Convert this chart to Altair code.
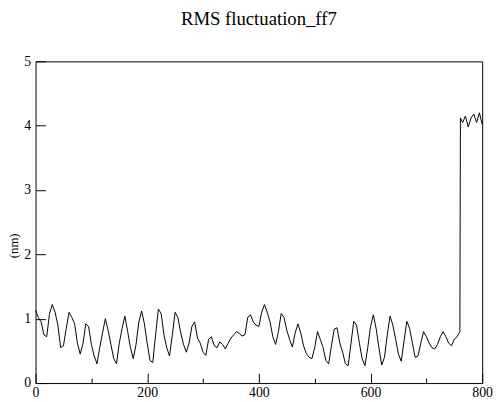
import altair as alt
import pandas as pd

# residue index (x) and RMS fluctuation in nm (y)
xs = [0, 5, 10, 15, 20, 25, 30, 35, 40, 45, 50, 55, 60, 65, 70, 75, 80, 85, 90, 95,
      100, 105, 110, 115, 120, 125, 130, 135, 140, 145, 150, 155, 160, 165, 170, 175,
      180, 185, 190, 195, 200, 205, 210, 215, 220, 225, 230, 235, 240, 245, 250, 255,
      260, 265, 270, 275, 280, 285, 290, 295, 300, 305, 310, 315, 320, 325, 330, 335,
      340, 345, 350, 355, 360, 365, 370, 375, 380, 385, 390, 395, 400, 405, 410, 415,
      420, 425, 430, 435, 440, 445, 450, 455, 460, 465, 470, 475, 480, 485, 490, 495,
      500, 505, 510, 515, 520, 525, 530, 535, 540, 545, 550, 555, 560, 565, 570, 575,
      580, 585, 590, 595, 600, 605, 610, 615, 620, 625, 630, 635, 640, 645, 650, 655,
      660, 665, 670, 675, 680, 685, 690, 695, 700, 705, 710, 715, 720, 725, 730, 735,
      740, 745, 750, 755, 760, 761, 765, 770, 775, 780, 785, 790, 795, 800]
ys = [1.13, 1.02, 0.95, 0.75, 0.72, 1.08, 1.22, 1.10, 0.90, 0.55, 0.58, 0.85, 1.10, 1.02, 0.92, 0.62, 0.45, 0.62, 0.92, 0.88,
      0.60, 0.42, 0.30, 0.55, 0.78, 1.00, 0.82, 0.60, 0.38, 0.30, 0.62, 0.85, 1.04, 0.80, 0.55, 0.38,
      0.60, 0.95, 1.12, 0.92, 0.62, 0.35, 0.32, 0.75, 1.15, 1.08, 0.75, 0.55, 0.42, 0.75, 1.10, 1.02,
      0.78, 0.60, 0.48, 0.62, 0.88, 0.95, 0.70, 0.62, 0.48, 0.43, 0.68, 0.72, 0.58, 0.55, 0.64, 0.60,
      0.53, 0.62, 0.70, 0.75, 0.80, 0.77, 0.73, 0.75, 1.02, 1.06, 0.95, 0.90, 0.88, 1.10, 1.22, 1.10,
      0.95, 0.72, 0.60, 0.80, 1.08, 1.02, 0.82, 0.68, 0.56, 0.78, 0.92, 0.78, 0.58, 0.46, 0.40, 0.38,
      0.55, 0.80, 0.68, 0.55, 0.35, 0.30, 0.58, 0.84, 0.86, 0.62, 0.48, 0.30, 0.27, 0.62, 0.96, 0.90,
      0.62, 0.38, 0.27, 0.55, 0.88, 1.06, 0.85, 0.55, 0.28, 0.40, 0.75, 1.04, 0.90, 0.68, 0.45, 0.34,
      0.65, 0.96, 0.85, 0.62, 0.40, 0.42, 0.62, 0.80, 0.72, 0.62, 0.55, 0.53, 0.60, 0.72, 0.80, 0.72,
      0.62, 0.58, 0.68, 0.72, 0.80, 4.12, 4.05, 4.15, 3.98, 4.12, 4.18, 4.05, 4.20, 4.02]

x_ticks = [0, 100, 200, 300, 400, 500, 600, 700, 800]   # labelled every 200
y_ticks = [0, 0.5, 1, 1.5, 2, 2.5, 3, 3.5, 4, 4.5, 5]   # labelled every 1

W, H = 454, 327
FONT = "Liberation Serif"

df = pd.DataFrame({"x": xs, "y": ys})

# inward ticks: axis moved 10px into the plot, ticks drawn back out to the frame;
# minor ticks dashed so only their outer 5px (touching the frame) are visible
xaxis = alt.Axis(
    values=x_ticks, offset=-10, tickSize=10, tickColor="black", tickWidth=1,
    tickDash={"condition": {"test": "datum.value % 200 === 0", "value": [10, 0]},
              "value": [0, 5, 5]},
    labelExpr="datum.value % 200 === 0 ? datum.label : ''", format="d",
    domain=False, grid=False, labelPadding=3, labelFlush=False, labelOverlap=False,
    labelFont=FONT, labelFontSize=14, labelColor="black", title=None,
)
yaxis = alt.Axis(
    values=y_ticks, offset=-10, tickSize=10, tickColor="black", tickWidth=1,
    tickDash={"condition": {"test": "datum.value % 1 === 0", "value": [10, 0]},
              "value": [0, 5, 5]},
    labelExpr="datum.value % 1 === 0 ? datum.label : ''", format="d",
    domain=False, grid=False, labelPadding=5, labelFlush=False, labelOverlap=False,
    labelFont=FONT, labelFontSize=14, labelColor="black",
    title="(nm)", titleFont=FONT, titleFontSize=13, titleFontWeight="normal",
    titleColor="black", titleX=-32, titleY=187, titleBaseline="middle",
)

chart = alt.Chart(df).mark_line(color="black", strokeWidth=1).encode(
    x=alt.X("x:Q", scale=alt.Scale(domain=[0, 800], nice=False, zero=False), axis=xaxis),
    y=alt.Y("y:Q", scale=alt.Scale(domain=[0, 5], nice=False), axis=yaxis),
).properties(
    width=W, height=H,
    title=alt.TitleParams("RMS fluctuation_ff7", font=FONT, fontSize=19,
                          fontWeight="normal", color="black", anchor="middle",
                          baseline="alphabetic", offset=11),
    view=alt.ViewBackground(stroke="black", strokeWidth=1, fill="white"),
    autosize=alt.AutoSizeParams(type="none"),
    padding={"left": 28, "top": 51, "right": 12, "bottom": 16},
)

chart.save("out.html", embed_options={"renderer": "svg", "actions": False})
